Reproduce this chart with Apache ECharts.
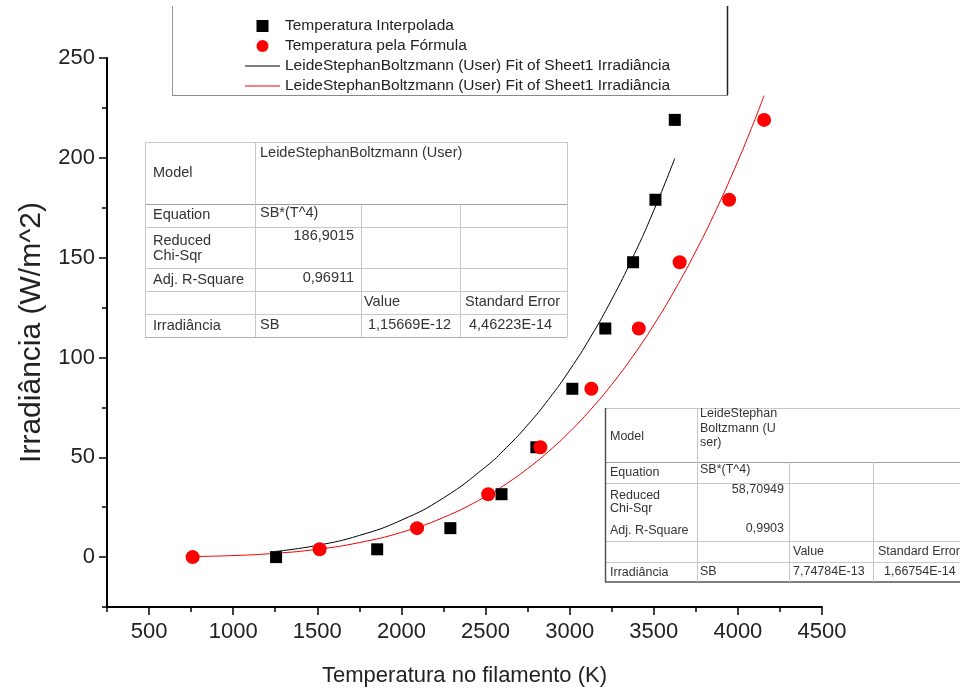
<!DOCTYPE html>
<html><head><meta charset="utf-8">
<script src="https://cdn.jsdelivr.net/npm/echarts@6/dist/echarts.min.js"></script>
<style>html,body{margin:0;padding:0;background:#fff}#c{width:960px;height:692px}</style>
</head><body><div id="c"></div>
<script>
// ---- data ----
const tempInterpolada = [1255, 1856, 2291, 2595, 2802, 3016, 3212, 3377, 3510, 3625];
const tempFormula     = [759, 1514, 2093, 2516, 2826, 3129, 3411, 3654, 3948, 4156];
const irradiancia     = [0, 3.9, 14.5, 31.5, 55, 84.3, 114.5, 147.7, 179, 219];

// fitted curves
const fitBlackT = [1255, 1500, 1750, 2000, 2250, 2500, 2625, 2750, 2875, 3000, 3125, 3250, 3375, 3500, 3625];
const fitBlackY = [2.87, 5.86, 10.85, 18.51, 29.64, 45.18, 54.92, 66.15, 79.03, 93.69, 110.31, 129.05, 150.08, 173.58, 199.73];
const fitRedT   = [759, 1000, 1250, 1500, 1750, 2000, 2250, 2500, 2625, 2750, 2875, 3000, 3125, 3250, 3375, 3500, 3625, 3750, 3875, 4000, 4080, 4156];
const fitRedY   = [0.26, 0.77, 1.89, 3.92, 7.27, 12.40, 19.86, 30.27, 36.79, 44.31, 52.93, 62.76, 73.89, 86.44, 100.52, 116.27, 133.79, 153.22, 174.69, 198.34, 214.69, 231.15];

const xMajorTicks = [500, 1000, 1500, 2000, 2500, 3000, 3500, 4000, 4500];
const xMinorTicks = [250, 750, 1250, 1750, 2250, 2750, 3250, 3750, 4250];
const yMajorTicks = [0, 50, 100, 150, 200, 250];
const yMinorTicks = [-25, 25, 75, 125, 175, 225];

const nameInterp = 'Temperatura Interpolada';
const nameFormula = 'Temperatura pela Fórmula';
const nameFit1 = 'LeideStephanBoltzmann (User) Fit of Sheet1 Irradiância';
const nameFit2 = 'LeideStephanBoltzmann (User) Fit of Sheet1 Irradiância\u200b';

const zip = (a, b) => a.map((v, i) => [v, b[i]]);
const FONT = '"Liberation Sans", Arial, sans-serif';

// ---- table overlays (fit result tables) ----
function L(x1, y1, x2, y2, color, w) {
  return { type: 'line', silent: true, z: 10,
    shape: { x1: x1, y1: y1, x2: x2, y2: y2 },
    style: { stroke: color || '#c8c8c8', lineWidth: w || 1 } };
}
function T(x, y, text, size, align) {
  return { type: 'text', silent: true, z: 11, x: x, y: y,
    style: { text: text, font: size + 'px ' + FONT, fill: '#333',
      align: align || 'left', verticalAlign: 'middle' } };
}
const t1 = 14.5, t2 = 12.5;
const table1 = [
  { type: 'rect', silent: true, z: 9, shape: { x: 145, y: 142, width: 422, height: 195 }, style: { fill: '#fff' } },
  L(145, 142.5, 567, 142.5), L(145, 204.5, 567, 204.5, '#a0a0a0'), L(145, 227.5, 567, 227.5),
  L(145, 268.5, 567, 268.5), L(145, 291.5, 567, 291.5), L(145, 314.5, 567, 314.5), L(145, 337.5, 567, 337.5, '#b0b0b0'),
  L(145.5, 142, 145.5, 337), L(255.5, 142, 255.5, 337), L(361.5, 204, 361.5, 337),
  L(460.5, 204, 460.5, 337), L(567.5, 142, 567.5, 337),
  T(153, 173, 'Model', t1), T(260, 153, 'LeideStephanBoltzmann (User)', t1),
  T(153, 215, 'Equation', t1), T(260, 213, 'SB*(T^4)', t1),
  T(153, 241, 'Reduced', t1), T(153, 256, 'Chi-Sqr', t1), T(354, 236, '186,9015', t1, 'right'),
  T(153, 280, 'Adj. R-Square', t1), T(354, 278, '0,96911', t1, 'right'),
  T(364, 302, 'Value', t1), T(465, 302, 'Standard Error', t1),
  T(153, 326, 'Irradiância', t1), T(260, 325, 'SB', t1), T(368, 325, '1,15669E-12', t1), T(469, 325, '4,46223E-14', t1)
];
const table2 = [
  { type: 'rect', silent: true, z: 9, shape: { x: 605, y: 408, width: 360, height: 174 }, style: { fill: '#fff' } },
  L(605, 408.5, 965, 408.5), L(605, 462.5, 965, 462.5, '#a0a0a0'), L(605, 483.5, 965, 483.5),
  L(605, 541.5, 965, 541.5), L(605, 562.5, 965, 562.5), L(605, 582, 965, 582, '#555', 1.5),
  L(605.5, 408, 605.5, 582, '#555', 1.5), L(697.5, 408, 697.5, 582), L(789.5, 462, 789.5, 582), L(873.5, 462, 873.5, 582),
  T(610, 437, 'Model', t2), T(700, 414, 'LeideStephan', t2), T(700, 428.5, 'Boltzmann (U', t2), T(700, 443, 'ser)', t2),
  T(610, 473, 'Equation', t2), T(700, 470, 'SB*(T^4)', t2),
  T(610, 496, 'Reduced', t2), T(610, 509, 'Chi-Sqr', t2), T(784, 490, '58,70949', t2, 'right'),
  T(610, 531, 'Adj. R-Square', t2), T(784, 529, '0,9903', t2, 'right'),
  T(793, 552, 'Value', t2), T(878, 552, 'Standard Error', t2),
  T(610, 573, 'Irradiância', t2), T(700, 572, 'SB', t2), T(793, 572, '7,74784E-13', t2), T(884, 572, '1,66754E-14', t2)
];
const legendFrame = [
  L(172.5, 6, 172.5, 95, '#999'), L(727.5, 6, 727.5, 95, '#222', 1.5), L(172, 95.5, 728, 95.5, '#888')
];

const chart = echarts.init(document.getElementById('c'), null, { renderer: 'canvas' });
const plain = v => String(v);
const axisText = { color: '#222', fontSize: 22, fontFamily: FONT, formatter: plain };
chart.setOption({
  animation: false,
  backgroundColor: '#fff',
  grid: { left: 107, right: 138, top: 58, bottom: 85, containLabel: false },
  legend: {
    orient: 'vertical', left: 240, top: 13, itemWidth: 35, itemHeight: 12, itemGap: 4,
    selectedMode: false, symbolKeepAspect: true,
    textStyle: { fontSize: 15.5, color: '#222', fontFamily: FONT },
    data: [
      { name: nameInterp, icon: 'path://M0,0L10,0L10,10L0,10Z' },
      { name: nameFormula, icon: 'circle' },
      { name: nameFit1, icon: 'path://M0,0L35,0L35,1L0,1Z' },
      { name: nameFit2, icon: 'path://M0,0L35,0L35,1L0,1Z' }
    ]
  },
  xAxis: [
    {
      type: 'value', min: 250, max: 4500, position: 'bottom',
      name: 'Temperatura no filamento (K)', nameLocation: 'middle', nameGap: 58,
      nameTextStyle: { fontSize: 22, color: '#222', fontFamily: FONT },
      axisLine: { show: true, onZero: false, lineStyle: { color: '#000', width: 2 } },
      axisTick: { show: true, customValues: xMajorTicks, length: 8, lineStyle: { color: '#000', width: 1.5 } },
      axisLabel: Object.assign({ customValues: xMajorTicks, margin: 14 }, axisText),
      splitLine: { show: false }
    },
    {
      type: 'value', min: 250, max: 4500, position: 'bottom',
      axisLine: { show: false, onZero: false },
      axisTick: { show: true, customValues: xMinorTicks, length: 5, lineStyle: { color: '#000', width: 1.5 } },
      axisLabel: { show: false }, splitLine: { show: false }
    }
  ],
  yAxis: [
    {
      type: 'value', min: -25, max: 250, position: 'left',
      name: 'Irradiância (W/m^2)', nameLocation: 'middle', nameGap: 60,
      nameTextStyle: { fontSize: 30, color: '#222', fontFamily: FONT },
      axisLine: { show: true, onZero: false, lineStyle: { color: '#000', width: 2 } },
      axisTick: { show: true, customValues: yMajorTicks, length: 8, lineStyle: { color: '#000', width: 1.5 } },
      axisLabel: Object.assign({ customValues: yMajorTicks, margin: 12 }, axisText),
      splitLine: { show: false }
    },
    {
      type: 'value', min: -25, max: 250, position: 'left',
      axisLine: { show: false, onZero: false },
      axisTick: { show: true, customValues: yMinorTicks, length: 5, lineStyle: { color: '#000', width: 1.5 } },
      axisLabel: { show: false }, splitLine: { show: false }
    }
  ],
  series: [
    { name: nameFit1, type: 'line', data: zip(fitBlackT, fitBlackY), symbol: 'none', smooth: true,
      lineStyle: { color: '#000', width: 1 }, itemStyle: { color: '#000' }, z: 2 },
    { name: nameFit2, type: 'line', data: zip(fitRedT, fitRedY), symbol: 'none', smooth: true,
      lineStyle: { color: '#e00', width: 1 }, itemStyle: { color: '#e00' }, z: 2 },
    { name: nameInterp, type: 'scatter', data: zip(tempInterpolada, irradiancia), symbol: 'rect', symbolSize: 12,
      itemStyle: { color: '#000', opacity: 1 }, z: 3 },
    { name: nameFormula, type: 'scatter', data: zip(tempFormula, irradiancia), symbol: 'circle', symbolSize: 14,
      itemStyle: { color: '#f00', opacity: 1 }, z: 3 }
  ],
  graphic: { elements: [].concat(legendFrame, table1, table2) }
});
</script>
</body></html>
